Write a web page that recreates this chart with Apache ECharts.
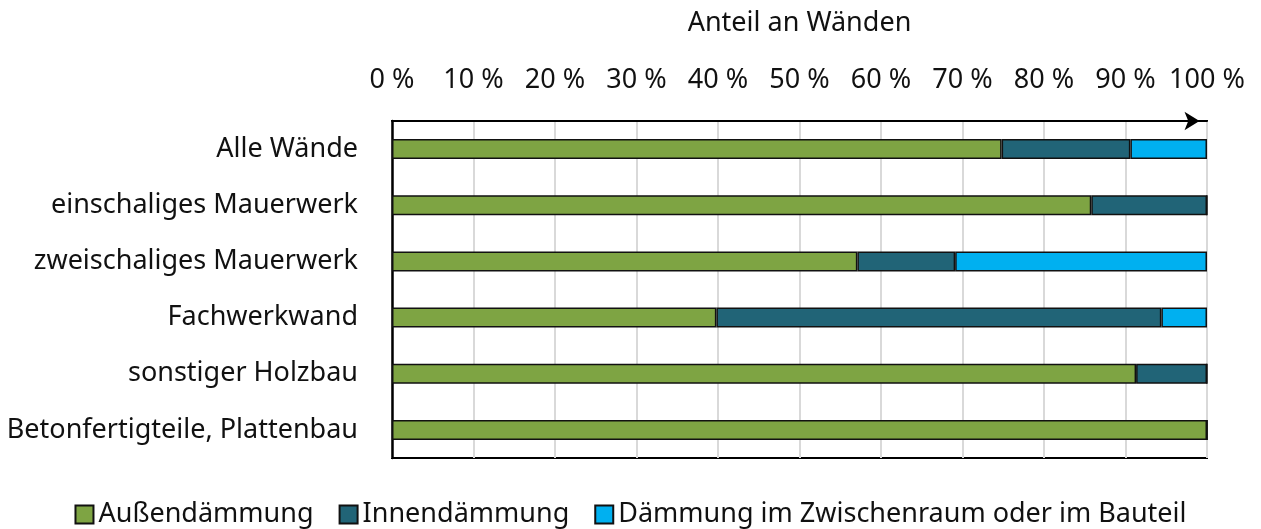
<!DOCTYPE html>
<html>
<head>
<meta charset="utf-8">
<script src="https://cdn.jsdelivr.net/npm/echarts@6/dist/echarts.min.js"></script>
<style>
  html, body { margin: 0; padding: 0; background: #fff; }
  #chart { width: 1261px; height: 529px; }
</style>
</head>
<body>
<div id="chart"></div>
<script>
// Kategorien (von oben nach unten)
var categories = ['Alle Wände', 'einschaliges Mauerwerk', 'zweischaliges Mauerwerk', 'Fachwerkwand', 'sonstiger Holzbau', 'Betonfertigteile, Plattenbau']
var aussen = [74.8, 85.8, 57.1, 39.8, 91.3, 100]
var innen = [15.8, 14.2, 12.0, 54.6, 8.7, 0]
var zwischen = [9.4, 0, 30.9, 5.6, 0, 0]
var seriesNames = ['Außendämmung', 'Innendämmung', 'Dämmung im Zwischenraum oder im Bauteil']
var colors = ['#7ea443', '#216477', '#00b0f0']

var font = 'Noto Sans'
var chart = echarts.init(document.getElementById('chart'))

function makeSeries (name, data, color) {
  return {
    name: name,
    type: 'bar',
    stack: 'total',
    barWidth: 20,
    data: data,
    itemStyle: { color: color, borderColor: '#111', borderWidth: 1.5 },
    emphasis: { disabled: true }
  }
}

var option = {
  animation: false,
  textStyle: { fontFamily: font },
  grid: {
    left: 392, right: 54, top: 121, bottom: 71,
    outerBoundsMode: 'none',
    containLabel: false,
    show: true, borderColor: '#000', borderWidth: 2
  },
  legend: {
    bottom: -4,
    left: 'center',
    itemWidth: 18,
    itemHeight: 18,
    itemGap: 25,
    icon: 'rect',
    textStyle: { fontSize: 27, color: '#111', fontFamily: font },
    data: seriesNames
  },
  xAxis: {
    type: 'value',
    position: 'top',
    min: 0,
    max: 100,
    interval: 10,
    name: 'Anteil an Wänden',
    nameLocation: 'middle',
    nameGap: 84,
    nameTextStyle: { fontSize: 27, color: '#111' },
    axisLine: {
      show: true,
      lineStyle: { color: '#000', width: 2 },
      symbol: ['none', 'arrow'],
      symbolSize: [14, 15],
      symbolOffset: [0, -7.5]
    },
    axisTick: { show: false },
    axisLabel: {
      margin: 27,
      fontSize: 27,
      color: '#111',
      formatter: function (v) { return v + ' %' }
    },
    splitLine: { show: true, lineStyle: { color: '#d9d9d9', width: 2 } }
  },
  yAxis: {
    type: 'category',
    inverse: true,
    data: categories,
    axisLine: { show: true, lineStyle: { color: '#000', width: 2.5 } },
    axisTick: { show: false },
    axisLabel: { margin: 34, fontSize: 27, color: '#111' }
  },
  series: [
    makeSeries(seriesNames[0], aussen, colors[0]),
    makeSeries(seriesNames[1], innen, colors[1]),
    makeSeries(seriesNames[2], zwischen, colors[2])
  ]
}
chart.setOption(option)
</script>
</body>
</html>
